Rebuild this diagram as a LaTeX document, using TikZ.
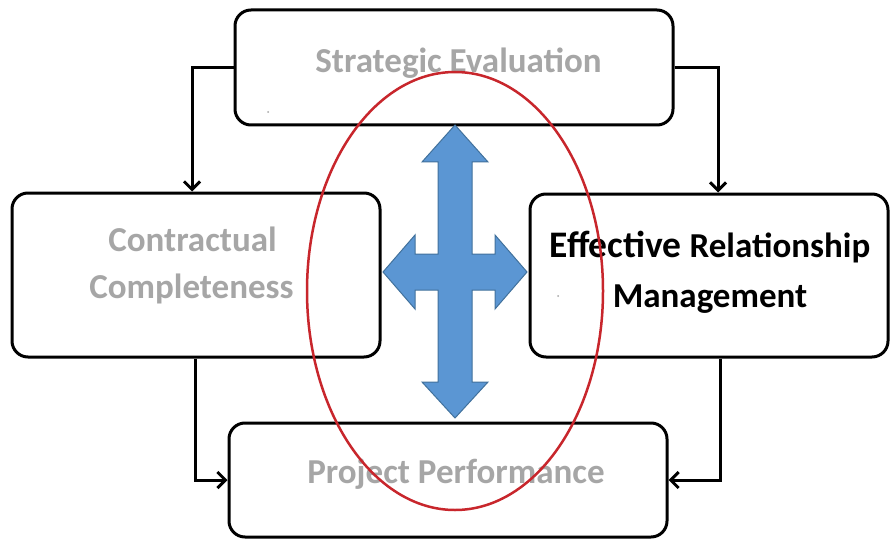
\documentclass[tikz,border=0pt]{standalone}
\usepackage{fontspec}
\setmainfont{Carlito}
\usetikzlibrary{arrows.meta}
\definecolor{softgray}{HTML}{A6A6A6}
\definecolor{ringred}{HTML}{C8262C}
\definecolor{arrowfill}{HTML}{5B96D3}
\definecolor{arrowline}{HTML}{41719C}
\tikzset{
  stage/.style={draw=black, line width=3pt, rounded corners=16pt, fill=white, inner sep=0pt},
  caption/.style={anchor=base, inner sep=0pt, font=\bfseries\fontsize{35}{42}\selectfont},
  faded/.style={text=softgray},
  link/.style={line width=3pt, -{Straight Barb[length=8pt,width=16pt,line width=3pt]}},
  crossarrow/.style={fill=arrowfill, draw=arrowline, line width=1pt, line join=miter},
  ring/.style={draw=ringred, line width=2.5pt},
  speck/.style={fill=gray!70}
}
\begin{document}
\begin{tikzpicture}[x=1pt, y=-1pt]
  \useasboundingbox (0,0) rectangle (890,540);

  % the four stages
  \node[stage, minimum width=438pt, minimum height=115pt] (strat) at (454,67.5) {};
  \node[stage, minimum width=368pt, minimum height=164pt] (contr) at (196,275) {};
  \node[stage, minimum width=358pt, minimum height=163pt] (relat) at (709,275.5) {};
  \node[stage, minimum width=438pt, minimum height=114pt] (perf) at (448,480) {};

  % stage captions
  \node[caption, faded] (strat-t) at (458.5,73) {Strategic Evaluation};
  \node[caption, faded] (contr-t1) at (192.5,251) {Contractual};
  \node[caption, faded] (contr-t2) at (191.5,298) {Completeness};
  \node[caption] (relat-t1) at (710,257)
    {{\fontsize{37.5}{42}\selectfont Effective} Relationship};
  \node[caption] (relat-t2) at (710,307) {Management};
  \node[caption, faded] (perf-t) at (456,483) {Project Performance};

  % stray specks inside two boxes
  \fill[speck] (268,112) circle (1pt);
  \fill[speck] (558,296) circle (1pt);

  % elbow connectors between the stages
  \draw[link] (strat.west) -| ([xshift=-4pt]contr.north);
  \draw[link] (strat.east) -| ([xshift=9pt]relat.north);
  \draw[link] ([xshift=-1pt]contr.south) |- (perf.west);
  \draw[link] ([xshift=11pt]relat.south) |- (perf.east);

  % four-way block arrow in the middle
  \begin{scope}[shift={(455,272)}]
    \draw[crossarrow]
      (0,-147) -- (33,-110) -- (17,-110) -- (17,-18) -- (40,-18) -- (40,-37)
      -- (72,0) -- (40,37) -- (40,18) -- (17,18) -- (17,110) -- (33,110)
      -- (0,146) -- (-33,110) -- (-17,110) -- (-17,18) -- (-40,18) -- (-40,37)
      -- (-72,0) -- (-40,-37) -- (-40,-18) -- (-17,-18) -- (-17,-110) -- (-33,-110)
      -- cycle;
  \end{scope}

  % red ring around the core
  \draw[ring] (455,291) ellipse [x radius=148pt, y radius=219pt];
\end{tikzpicture}
\end{document}
